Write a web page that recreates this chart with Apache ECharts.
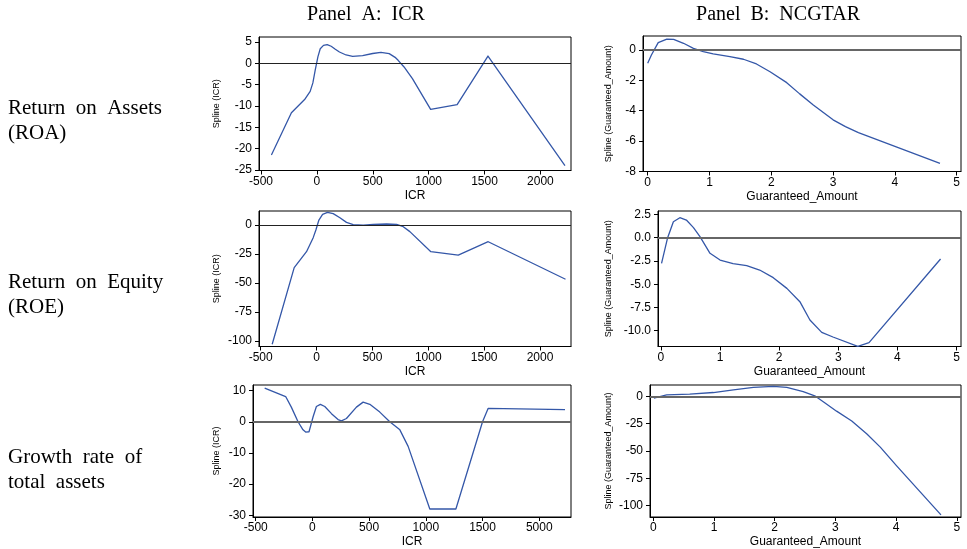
<!DOCTYPE html>
<html><head><meta charset="utf-8">
<script src="https://cdn.jsdelivr.net/npm/echarts@6/dist/echarts.min.js"></script>
<style>html,body{margin:0;padding:0;background:#fff}#c{width:967px;height:549px}</style>
</head><body><div id="c"></div>
<script>
// ---------- data ----------
const columnTitles = ['Panel  A:  ICR', 'Panel  B:  NCGTAR'];
const rowLabels = [['Return  on  Assets', '(ROA)'], ['Return  on  Equity', '(ROE)'], ['Growth  rate  of', 'total  assets']];

const icrTicks = [-500, 0, 500, 1000, 1500, 2000];
const icrTickLabels = ['-500', '0', '500', '1000', '1500', '2000'];
const growthIcrTickLabels = ['-500', '0', '500', '1000', '1500', '5000'];
const gaTicks = [0, 1, 2, 3, 4, 5];
const gaTickLabels = ['0', '1', '2', '3', '4', '5'];

const roaIcrYTicks = [-25, -20, -15, -10, -5, 0, 5];
const roaIcrYLabels = ['-25', '-20', '-15', '-10', '-5', '0', '5'];
const roeIcrYTicks = [-100, -75, -50, -25, 0];
const roeIcrYLabels = ['-100', '-75', '-50', '-25', '0'];
const growthIcrYTicks = [-30, -20, -10, 0, 10];
const growthIcrYLabels = ['-30', '-20', '-10', '0', '10'];
const roaGaYTicks = [-8, -6, -4, -2, 0];
const roaGaYLabels = ['-8', '-6', '-4', '-2', '0'];
const roeGaYTicks = [-10, -7.5, -5, -2.5, 0, 2.5];
const roeGaYLabels = ['-10.0', '-7.5', '-5.0', '-2.5', '0.0', '2.5'];
const growthGaYTicks = [-100, -75, -50, -25, 0];
const growthGaYLabels = ['-100', '-75', '-50', '-25', '0'];

const roaIcrX = [-407, -228, -110, -60, -36, -15, 9, 30, 59, 92, 128, 165, 202, 261, 320, 409, 499, 573, 647, 700, 727, 780, 855, 1018, 1255, 1531, 2220];
const roaIcrY = [-21.5, -11.6, -8.5, -6.6, -4.6, -1.6, 1.5, 3.4, 4.2, 4.4, 4.0, 3.3, 2.65, 1.95, 1.64, 1.8, 2.3, 2.57, 2.26, 1.4, 0.7, -0.86, -3.6, -10.8, -9.7, 1.7, -24.0];

const roeIcrX = [-397, -200, -90, -30, -6, 21, 54, 98, 149, 209, 268, 328, 418, 507, 627, 716, 776, 835, 1023, 1268, 1536, 2228];
const roeIcrY = [-102.9, -36.8, -23, -10.9, -4.3, 4.3, 9.2, 10.9, 9.8, 6.3, 2.3, 0.3, 0, 0.6, 0.9, 0.6, -1.4, -5.7, -23, -25.9, -14.4, -46.8];

const growthIcrX = [-421, -236, -186, -127, -83, -60, -47, -30, -18, 6, 35, 70, 109, 168, 226, 256, 300, 388, 447, 506, 594, 682, 771, 844, 1035, 1265, 1500, 1550, 2227];
const growthIcrY = [10.8, 8.1, 4.7, 0, -2.6, -3.3, -3.5, -3.2, -2.6, 1.6, 4.9, 5.6, 4.9, 2.6, 0.7, 0.3, 1.05, 4.7, 6.3, 5.6, 3.1, 0, -2.6, -7.9, -28.0, -28.0, 0, 4.3, 3.9];

const roaGaX = [0, 0.06, 0.17, 0.31, 0.42, 0.58, 0.74, 0.9, 1.06, 1.33, 1.55, 1.76, 1.98, 2.25, 2.46, 2.68, 3.0, 3.2, 3.41, 4.73];
const roaGaY = [-0.88, -0.33, 0.48, 0.72, 0.70, 0.44, 0.11, -0.11, -0.26, -0.44, -0.61, -0.92, -1.43, -2.15, -2.89, -3.62, -4.6, -5.05, -5.44, -7.46];

const roeGaX = [0.01, 0.11, 0.21, 0.32, 0.43, 0.55, 0.66, 0.83, 1.0, 1.22, 1.45, 1.67, 1.9, 2.13, 2.35, 2.52, 2.72, 2.91, 3.33, 3.52, 4.73];
const roeGaY = [-2.76, -0.07, 1.72, 2.15, 1.9, 1.08, 0.11, -1.68, -2.4, -2.8, -3.0, -3.48, -4.3, -5.45, -6.88, -8.85, -10.18, -10.68, -11.68, -11.29, -2.29];

const growthGaX = [0.01, 0.22, 0.6, 0.99, 1.32, 1.65, 1.98, 2.2, 2.47, 2.66, 2.83, 3.02, 3.27, 3.52, 3.74, 4.01, 4.74];
const growthGaY = [-1.5, 1.5, 2.1, 3.6, 6.0, 8.4, 9.3, 8.4, 4.5, 0.6, -6, -13.5, -22.5, -34.5, -46.5, -63.7, -108.7];

// ---------- layout / styles ----------
const LINE = '#3457a8';
const panels = [
  {x: roaIcrX, y: roaIcrY, grid: [259, 37, 312, 133.5], xr: [-518, 2274], yr: [-25.16, 6.17],
   xt: icrTicks, xl: icrTickLabels, yt: roaIcrYTicks, yl: roaIcrYLabels, xn: 'ICR', yn: 'Spline (ICR)', yGap: 38, zero: ['#222', 1]},
  {x: roaGaX, y: roaGaY, grid: [643, 36, 318, 135.5], xr: [-0.076, 5.07], yr: [-8.0, 0.92],
   xt: gaTicks, xl: gaTickLabels, yt: roaGaYTicks, yl: roaGaYLabels, xn: 'Guaranteed_Amount', yn: 'Spline (Guaranteed_Amount)', yGap: 30, zero: ['#666', 2]},
  {x: roeIcrX, y: roeIcrY, grid: [259, 211, 312, 135.5], xr: [-515, 2277], yr: [-104.8, 12.1],
   xt: icrTicks, xl: icrTickLabels, yt: roeIcrYTicks, yl: roeIcrYLabels, xn: 'ICR', yn: 'Spline (ICR)', yGap: 38, zero: ['#222', 1]},
  {x: roeGaX, y: roeGaY, grid: [658, 211, 303, 135.5], xr: [-0.05, 5.076], yr: [-11.7, 2.87],
   xt: gaTicks, xl: gaTickLabels, yt: roeGaYTicks, yl: roeGaYLabels, xn: 'Guaranteed_Amount', yn: 'Spline (Guaranteed_Amount)', yGap: 45, zero: ['#666', 2]},
  {x: growthIcrX, y: growthIcrY, grid: [253, 385, 318, 134.5], xr: [-524, 2280], yr: [-30.57, 11.8],
   xt: icrTicks, xl: growthIcrTickLabels, yt: growthIcrYTicks, yl: growthIcrYLabels, xn: 'ICR', yn: 'Spline (ICR)', yGap: 32, zero: ['#666', 2]},
  {x: growthGaX, y: growthGaY, grid: [650, 385, 311, 134.5], xr: [-0.054, 5.07], yr: [-110.6, 10.5],
   xt: gaTicks, xl: gaTickLabels, yt: growthGaYTicks, yl: growthGaYLabels, xn: 'Guaranteed_Amount', yn: 'Spline (Guaranteed_Amount)', yGap: 37, zero: ['#666', 2]}
];

const SANS = 'Liberation Sans, Arial, sans-serif';
const SERIF = 'Liberation Serif, Times New Roman, serif';
function fmt(ticks, labels) { return v => { const i = ticks.findIndex(t => Math.abs(t - v) < 1e-9); return i >= 0 ? labels[i] : ''; }; }

const option = {
  animation: false,
  backgroundColor: '#fff',
  grid: [], xAxis: [], yAxis: [], series: [],
  graphic: []
};
panels.forEach((p, i) => {
  option.grid.push({left: p.grid[0], top: p.grid[1], width: p.grid[2], height: p.grid[3], show: true, borderColor: '#000', borderWidth: 1, containLabel: false});
  option.xAxis.push({type: 'value', gridIndex: i, min: p.xr[0], max: p.xr[1],
    axisLine: {show: true, onZero: false, lineStyle: {color: '#000', width: 1}},
    axisTick: {show: true, length: 4, inside: false, customValues: p.xt, lineStyle: {color: '#000'}},
    axisLabel: {customValues: p.xt, formatter: fmt(p.xt, p.xl), fontSize: 12, color: '#000', fontFamily: SANS, margin: 5, showMinLabel: true, showMaxLabel: true, hideOverlap: false},
    splitLine: {show: false},
    name: p.xn, nameLocation: 'middle', nameGap: 19, nameTextStyle: {fontSize: 12, color: '#000', fontFamily: SANS}
  });
  option.yAxis.push({type: 'value', gridIndex: i, min: p.yr[0], max: p.yr[1],
    axisLine: {show: true, onZero: false, lineStyle: {color: '#000', width: 1}},
    axisTick: {show: true, length: 4, inside: false, customValues: p.yt, lineStyle: {color: '#000'}},
    axisLabel: {customValues: p.yt, formatter: fmt(p.yt, p.yl), fontSize: 12, color: '#000', fontFamily: SANS, margin: 7, showMinLabel: true, showMaxLabel: true, hideOverlap: false},
    splitLine: {show: false},
    name: p.yn, nameLocation: 'middle', nameGap: p.yGap, nameRotate: 90, nameTextStyle: {fontSize: 9, color: '#000', fontFamily: SANS}
  });
  option.series.push({type: 'line', xAxisIndex: i, yAxisIndex: i,
    data: p.x.map((v, k) => [v, p.y[k]]), showSymbol: false, smooth: false,
    lineStyle: {color: LINE, width: 1.3, join: 'round'}, silent: true,
    markLine: {silent: true, symbol: 'none', label: {show: false}, animation: false,
      lineStyle: {color: p.zero[0], width: p.zero[1], type: 'solid'}, data: [{yAxis: 0}]},
    z: 3
  });
});
// column titles
const titleCenters = [366, 778];
columnTitles.forEach((t, i) => {
  option.graphic.push({type: 'text', x: titleCenters[i], y: 5, style: {text: t, font: '20px ' + SERIF, fill: '#000', align: 'center', verticalAlign: 'top'}});
});
// row labels
const rowTops = [98, 272, 447];
rowLabels.forEach((r, i) => {
  option.graphic.push({type: 'text', x: 8, y: rowTops[i], style: {text: r[0], font: '21px ' + SERIF, fill: '#000'}});
  option.graphic.push({type: 'text', x: 8, y: rowTops[i] + 25, style: {text: r[1], font: '21px ' + SERIF, fill: '#000'}});
});

const chart = echarts.init(document.getElementById('c'), null, {renderer: 'canvas'});
chart.setOption(option);
</script>
</body></html>
